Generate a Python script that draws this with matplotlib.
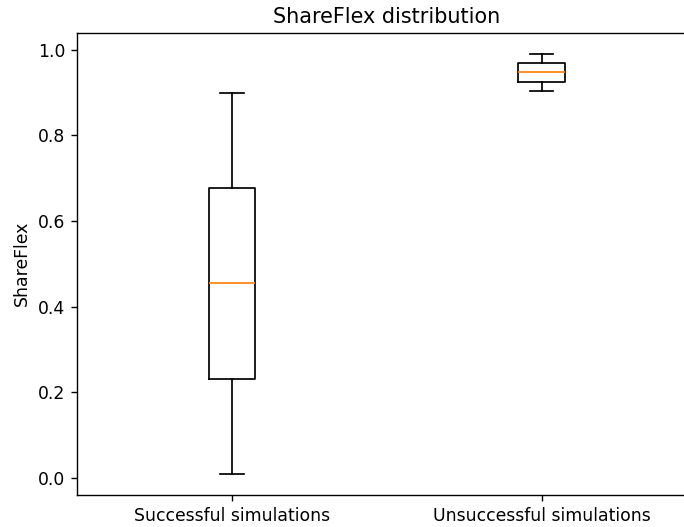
# ShareFlex boxplot, successful vs unsuccessful simulations

import matplotlib
matplotlib.use("Agg")
import matplotlib.pyplot as plt

labels = ["Successful simulations", "Unsuccessful simulations"]
whislo = [0.01, 0.903]
q1 = [0.231, 0.924]
med = [0.455, 0.947]
q3 = [0.677, 0.969]
whishi = [0.898, 0.990]

stats = []
for i in range(len(labels)):
    stats.append({"label": labels[i], "whislo": whislo[i], "q1": q1[i],
                  "med": med[i], "q3": q3[i], "whishi": whishi[i], "fliers": []})

dpi = 124.2
fig = plt.figure(figsize=(684 / dpi, 527 / dpi), dpi=dpi)
# the reference is cropped on the right, so the axes run past the edge
ax = fig.add_axes([77.3 / 684, 32.5 / 527, 619 / 684, 461.5 / 527])
ax.bxp(stats)
ax.set_title("ShareFlex distribution")
ax.set_ylabel("ShareFlex")

fig.savefig("out.png", dpi=dpi)
